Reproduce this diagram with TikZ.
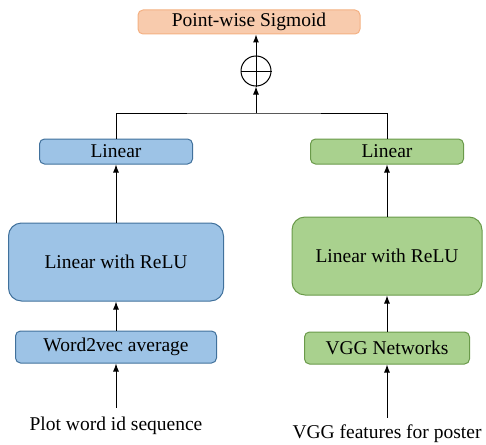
\documentclass[tikz,border=0pt]{standalone}
\usepackage{fontspec}
\setmainfont{Liberation Serif}
\usetikzlibrary{arrows.meta,positioning,calc}

\definecolor{bluefill}{HTML}{9DC3E6}
\definecolor{blueline}{HTML}{41719C}
\definecolor{greenfill}{HTML}{A9D18E}
\definecolor{greenline}{HTML}{6A9A4A}
\definecolor{sigfill}{HTML}{F8CBAD}
\definecolor{sigline}{HTML}{F4B183}

\begin{document}
\begin{tikzpicture}[x=1pt,y=-1pt,font=\fontsize{19.5}{23}\selectfont,
	layer/.style={draw,line width=1pt,rounded corners=5pt,inner sep=0pt,align=center},
	bluebox/.style={layer,fill=bluefill,draw=blueline},
	greenbox/.style={layer,fill=greenfill,draw=greenline},
	sigbox/.style={layer,fill=sigfill,draw=sigline},
	arr/.style={-{Latex[length=8pt,width=6pt]},line width=1pt}]
\useasboundingbox (0,0) rectangle (486,444);

% output and merge
\node[sigbox,minimum width=222pt,minimum height=24pt] at (249,22) (sig) {Point-wise Sigmoid};
\node[circle,draw,line width=1pt,minimum size=30pt,inner sep=0pt] at (256,71) (plus) {};
\draw[line width=1pt] (plus.north) -- (plus.south) (plus.west) -- (plus.east);
\draw[arr] (plus.north) -- (plus.north |- sig.south);

% plot branch
\node[bluebox,minimum width=153pt,minimum height=25pt] at (116,151.5) (lin1) {Linear};
\node[bluebox,rounded corners=13pt,minimum width=215pt,minimum height=78pt] at (116,262) (relu1) {Linear with ReLU};
\node[bluebox,minimum width=201pt,minimum height=32pt] at (116,347) (w2v) {Word2vec average};
\node at (116,426) (plot) {Plot word id sequence};

% poster branch
\node[greenbox,minimum width=153pt,minimum height=25pt] at (387,151.5) (lin2) {Linear};
\node[greenbox,rounded corners=13pt,minimum width=190pt,minimum height=78pt] at (387,256) (relu2) {Linear with ReLU};
\node[greenbox,minimum width=165pt,minimum height=32pt] at (387,348) (vgg) {VGG Networks};
\node at (387,434) (poster) {VGG features for poster};

\draw[arr,shorten <=6pt] (plot.north) -- (w2v.south);
\draw[arr] (w2v.north) -- (relu1.south);
\draw[arr] (relu1.north) -- (lin1.south);
\draw[arr,shorten <=4pt] (poster.north) -- (vgg.south);
\draw[arr] (vgg.north) -- (relu2.south);
\draw[arr] (relu2.north) -- (lin2.south);

\coordinate (join) at (256,113);
\draw[line width=1pt] (lin1.north) |- (join) -| (lin2.north);
\draw[arr] (join) -- (plus.south);
\end{tikzpicture}
\end{document}
